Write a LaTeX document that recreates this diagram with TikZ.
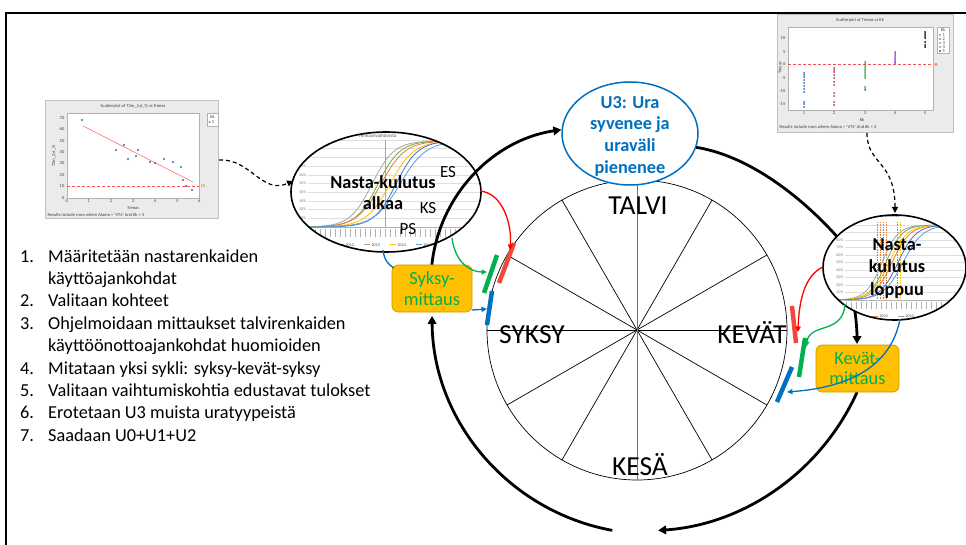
\documentclass[tikz,border=0pt]{standalone}
\usepackage{fontspec}
\setmainfont{Carlito}
\usetikzlibrary{shapes.geometric,arrows.meta,calc}

\definecolor{pblue}{HTML}{0070C0}
\definecolor{pgreen}{HTML}{00B050}
\definecolor{pred}{HTML}{FF0000}
\definecolor{barred}{HTML}{F2473F}
\definecolor{gold}{HTML}{FFC000}
\definecolor{goldedge}{HTML}{C49A00}
\definecolor{xorange}{HTML}{ED7D31}
\definecolor{xgrey}{HTML}{A5A5A5}
\definecolor{xyellow}{HTML}{FFC000}
\definecolor{xblue}{HTML}{5B9BD5}
\definecolor{xgreen}{HTML}{70AD47}
\definecolor{xnavy}{HTML}{4472C4}
\definecolor{sblue}{HTML}{2E6DB4}
\definecolor{sred}{HTML}{B0343C}
\definecolor{sgreen}{HTML}{3C9A3C}
\definecolor{spurple}{HTML}{9B30C8}
\definecolor{panel}{HTML}{EBEBEB}

% S-shaped cumulative curve: colour, domain, midpoint, spread, baseline y, height
\newcommand\sigmoidcurve[6]{%
  \draw[#1,line width=0.8pt] plot[domain=#2,samples=60,smooth]
    (\x,{-#5+#6/(1+exp(-(\x-#3)/#4))});}

\begin{document}
\begin{tikzpicture}[x=1pt,y=1pt,
  cycle/.style={line width=2.8pt,-{Triangle[length=8pt,width=8.5pt]}},
  cyclebare/.style={line width=2.8pt},
  feed/.style={line width=1.3pt,-{Triangle[length=5.5pt,width=5pt]}},
  tagbar/.style={line width=4.5pt},
  season/.style={font=\fontsize{27.5}{30}\selectfont,inner sep=0,anchor=base},
  listtxt/.style={font=\fontsize{18.3}{22}\selectfont,anchor=base west,inner sep=0},
  measbox/.style={draw=goldedge,fill=gold,rounded corners=6pt,line width=0.6pt,
    minimum width=#1,minimum height=47pt,align=center,text=pgreen,
    font=\fontsize{18.5}{20.5}\selectfont,inner sep=0},
  bubble/.style={ellipse,draw,line width=1.6pt,inner sep=0},
  boldlbl/.style={align=center,inner sep=0},
  sublbl/.style={font=\fontsize{17}{20}\selectfont,inner sep=0,anchor=base},
  dashlink/.style={dash pattern=on 4pt off 3pt,line width=1.2pt,-{Triangle[length=6pt,width=6pt]}},
  tinytxt/.style={font=\fontsize{4.5}{5}\selectfont,inner sep=0.5pt,text=black!75},
]
\useasboundingbox (0,0) rectangle (966,-545);

% frame
\draw[line width=2pt] (6,-545) -- (6,-13) -- (966,-13);

% ---------- scatterplot: T2m vs Treeas ----------
\node[draw=gray!50,fill=panel,minimum width=173pt,minimum height=118pt,inner sep=0,line width=0.4pt] (sc1) at (131.5,-159) {};
\draw[gray!60,fill=white,line width=0.4pt] (67,-113) rectangle (199,-198);
\node[tinytxt] at (133,-106) {Scatterplot of T2m\_2,6\_\% vs Treeas};
\foreach \v in {0,10,...,70} \node[tinytxt,anchor=east] at (65,{-197.7+1.14*\v}) {\v};
\foreach \u in {0,...,6} \node[tinytxt,anchor=north] at ({66.7+22.1*\u},-199) {\u};
\node[tinytxt] at (133,-208) {Treeas};
\node[tinytxt,rotate=90] at (54,-156) {T2m\_2,6\_\%};
\node[tinytxt,anchor=west] at (47,-214.5) {Results include rows where Alamo = 'VT4' And Kk = 3};
\draw[gray!60,fill=white,line width=0.3pt] (207,-113) rectangle (218,-126);
\node[tinytxt] at (212.5,-116.5) {Kk};
\fill[sblue] (209.5,-122) circle[radius=0.8pt];
\node[tinytxt,anchor=west] at (211,-122) {3};
\draw[red!70,dash pattern=on 3pt off 2pt,line width=0.6pt] (67,-186.3) -- (199,-186.3);
\node[tinytxt,text=red!70,anchor=west] at (200,-186.3) {10};
\draw[red!55,line width=0.6pt] (83,-126) -- (193,-182);
\foreach \px/\py in {82/120,116/150,124/145,128/159,136/156,138/150,150/162,155/163,164/159,173/162,181/167,183/180,186/186,192/190}
  \fill[sblue] (\px,-\py) circle[radius=1.1pt];

% ---------- scatterplot: Treeas vs Kk ----------
\node[draw=gray!50,fill=panel,minimum width=176pt,minimum height=118pt,inner sep=0,line width=0.4pt] (sc2) at (865,-73) {};
\draw[gray!60,fill=white,line width=0.4pt] (788,-27) rectangle (933,-110);
\node[tinytxt] at (860,-20) {Scatterplot of Treeas vs Kk};
\foreach \v/\yy in {10/38.3,5/51.7,0/64.3,-5/77.7,-10/91,-15/104.3} \node[tinytxt,anchor=east] at (786,-\yy) {\v};
\foreach \u/\xx in {1/804,2/834,3/865,4/895,5/925} \node[tinytxt,anchor=north] at (\xx,-111) {\u};
\node[tinytxt] at (862,-120) {Kk};
\node[tinytxt,rotate=90] at (780,-68) {Treeas};
\node[tinytxt,anchor=west] at (779,-127) {Results include rows where Alamo = 'VT4' And Kk = 3};
\draw[red!70,dash pattern=on 3pt off 2pt,line width=0.6pt] (788,-64.3) -- (933,-64.3);
\draw[red!70,line width=0.4pt] (936,-64.3) circle[radius=1.2pt];
\draw[gray!60,fill=white,line width=0.3pt] (937,-27) rectangle (949,-53);
\node[tinytxt] at (943,-30) {Kk};
\foreach \i/\cc in {1/sblue,2/sred,3/sgreen,4/spurple,5/black}{
  \fill[\cc] (940,{-31-4*\i}) circle[radius=0.8pt];
  \node[tinytxt,anchor=west] at (942,{-31-4*\i}) {\i};}
\foreach \py in {73,75,77,80,83,86,89,92,102,104,107} \fill[sblue] (804,-\py) circle[radius=1pt];
\foreach \py in {68,70,72,75,78,82,85,93,96,102,105} \fill[sred] (834,-\py) circle[radius=1pt];
\foreach \py in {62,64,66,68,70,72,74,76,78,87,89,90} \fill[sgreen] (865,-\py) circle[radius=1pt];
\foreach \py in {52,54,56,58,60,62,63} \fill[spurple] (895,-\py) circle[radius=1pt];
\foreach \py in {32,34,36,38,42,45,47} \fill[black] (925,-\py) circle[radius=1pt];

% ---------- work steps ----------
\node[listtxt] (n1) at (20,-262) {1.};
\node[listtxt] (t1) at (48,-262) {Määritetään nastarenkaiden};
\node[listtxt] (t1b) at (48,-284.4) {käyttöajankohdat};
\node[listtxt] (n2) at (20,-306.8) {2.};
\node[listtxt] (t2) at (48,-306.8) {Valitaan kohteet};
\node[listtxt] (n3) at (20,-329.2) {3.};
\node[listtxt] (t3) at (48,-329.2) {Ohjelmoidaan mittaukset talvirenkaiden};
\node[listtxt] (t3b) at (48,-351.6) {käyttöönottoajankohdat huomioiden};
\node[listtxt] (n4) at (20,-374) {4.};
\node[listtxt] (t4) at (48,-374) {Mitataan yksi sykli: syksy-kevät-syksy};
\node[listtxt] (n5) at (20,-396.4) {5.};
\node[listtxt] (t5) at (48,-396.4) {Valitaan vaihtumiskohtia edustavat tulokset};
\node[listtxt] (n6) at (20,-418.8) {6.};
\node[listtxt] (t6) at (48,-418.8) {Erotetaan U3 muista uratyypeistä};
\node[listtxt] (n7) at (20,-441.2) {7.};
\node[listtxt] (t7) at (48,-441.2) {Saadaan U0+U1+U2};

% ---------- year dial ----------
\coordinate (c) at (637,-330);
\draw[line width=0.7pt] (c) circle[radius=150pt];
\foreach \a in {0,30,60,120,150}
  \draw[line width=0.7pt] ($(c)+(\a:150)$) -- ($(c)+(\a+180:150)$);
\draw[line width=0.9pt,black!55] ($(c)+(90:150)$) -- ($(c)+(270:150)$);
\node[season] (talvi) at (638,-215) {TALVI};
\node[season] (syksy) at (532,-343) {SYKSY};
\node[season] (kevat) at (752,-343) {KEVÄT};
\node[season] (kesa) at (640,-475) {KESÄ};

% ---------- start of stud wear (chart in ellipse) ----------
\begin{scope}
  \clip (386,-192) ellipse[x radius=95pt,y radius=60pt];
  \fill[white] (280,-120) rectangle (490,-260);
  \foreach \g in {0,...,10} \draw[gray!25,line width=0.4pt] (308,{-227+8.7*\g}) -- (490,{-227+8.7*\g});
  \foreach \g in {1,...,9} \node[tinytxt,text=gray,anchor=east,font=\fontsize{4}{4}\selectfont] at (307,{-227+8.7*\g}) {\g0\%};
  \draw[gray!70,line width=0.9pt] (385,-140) -- (385,-227);
  \draw[gray!60,line width=0.5pt] (308,-227) -- (490,-227);
  \foreach \t in {0,...,35} \draw[gray!60,line width=0.5pt] ({310+5*\t},-229) -- ({310+5*\t},-237);
  \sigmoidcurve{xgrey}{290:490}{372}{11}{227}{86}
  \sigmoidcurve{xgreen}{290:490}{378}{11}{227}{86}
  \sigmoidcurve{xorange}{290:490}{381}{12}{227}{86}
  \sigmoidcurve{xyellow}{290:490}{390}{12}{227}{86}
  \sigmoidcurve{xnavy}{290:490}{396}{11}{227}{86}
  \sigmoidcurve{xblue}{290:490}{400}{13}{227}{86}
  \node[tinytxt,text=gray!70!black,anchor=east,font=\fontsize{5}{5}\selectfont] at (397,-136) {renkaanvaihdoista};
  \foreach \xx/\cc/\yr in {338/xorange/2012,364/xgrey/2013,390/xyellow/2014,416/xblue/2015}{
    \draw[\cc,line width=1pt] (\xx,-245) -- (\xx+6,-245);
    \node[tinytxt,anchor=west,font=\fontsize{4}{4}\selectfont] at (\xx+7,-245) {\yr};}
\end{scope}
\node[bubble,minimum width=190pt,minimum height=120pt] (alku) at (386,-192) {};
\node[boldlbl,font=\bfseries\fontsize{18.3}{21}\selectfont] (alkulbl) at (383,-193) {Nasta-kulutus\\alkaa};
\node[sublbl] (es) at (448,-177.5) {ES};
\node[sublbl] (ks) at (428,-213.3) {KS};
\node[sublbl] (ps) at (408,-235) {PS};

% ---------- outer cycle arrows ----------
\coordinate (aA) at ($(652,-314)+(259.6:220)$);
\draw[cycle] (aA) arc[start angle=259.6,end angle=180.5,radius=220pt];
\coordinate (aB) at ($(584,-281)+(174.7:153)$);
\draw[cycle] (aB) arc[start angle=174.7,end angle=98.5,radius=153pt];
\coordinate (aC1) at (694,-147);
\coordinate (aC2) at (840,-240);
\draw[cyclebare] (aC1) .. controls (750,-155) and (805,-200) .. (aC2);
\coordinate (aD1) at (853,-300);
\coordinate (aD2) at (857,-344);
\draw[cycle] (aD1) .. controls (856,-315) and (857,-330) .. (aD2);
\coordinate (aE) at ($(642,-295)+(-24.3:236)$);
\draw[cycle] (aE) arc[start angle=-24.3,end angle=-86.1,radius=236pt];

% ---------- U3 ----------
\node[ellipse,draw=pblue,line width=1.5pt,fill=white,minimum width=136pt,minimum height=103pt,inner sep=0] (u3) at (630,-133.5) {};
\node[boldlbl,text=pblue,font=\bfseries\fontsize{18.3}{21.7}\selectfont] (u3lbl) at (630,-136) {U3: Ura\\syvenee ja\\uraväli\\pienenee};

% ---------- end of stud wear (chart in ellipse) ----------
\begin{scope}
  \clip (894.5,-267.5) ellipse[x radius=71.5pt,y radius=52.5pt];
  \fill[white] (820,-210) rectangle (970,-325);
  \foreach \g in {0,...,10} \draw[gray!25,line width=0.4pt] (845,{-300+7.5*\g}) -- (970,{-300+7.5*\g});
  \foreach \g in {1,...,9} \node[tinytxt,text=gray,anchor=east,font=\fontsize{4}{4}\selectfont] at (844,{-300+7.5*\g}) {\g0\%};
  \foreach \xx/\cc in {877/xgreen,880/xorange,883/xblue,886/xorange,897/xblue,900/xyellow}
    \draw[\cc,dash pattern=on 1.5pt off 1pt,line width=0.6pt] (\xx,-222) -- (\xx,-300);
  \draw[gray!60,line width=0.5pt] (845,-300) -- (970,-300);
  \foreach \t in {0,...,25} \draw[gray!60,line width=0.5pt] ({846+5*\t},-302) -- ({846+5*\t},-309);
  \sigmoidcurve{xgrey}{820:970}{882}{8}{300}{75}
  \sigmoidcurve{xgreen}{820:970}{886}{8}{300}{75}
  \sigmoidcurve{xorange}{820:970}{892}{9}{300}{75}
  \sigmoidcurve{xyellow}{820:970}{889}{9}{300}{75}
  \sigmoidcurve{xnavy}{820:970}{898}{9}{300}{75}
  \sigmoidcurve{xblue}{820:970}{903}{10}{300}{75}
  \node[tinytxt,text=gray!70!black,anchor=west,font=\fontsize{5}{5}\selectfont] at (862,-216) {renkaanvaihdoista};
  \foreach \xx/\cc/\yr in {872/xorange/2012,898/xgrey/2013,924/xyellow/2014,950/xblue/2015}{
    \draw[\cc,line width=1pt] (\xx,-316) -- (\xx+6,-316);
    \node[tinytxt,anchor=west,font=\fontsize{4}{4}\selectfont] at (\xx+7,-316) {\yr};}
\end{scope}
\node[bubble,minimum width=143pt,minimum height=105pt] (loppu) at (894.5,-267.5) {};
\node[boldlbl,font=\bfseries\fontsize{18.3}{22.5}\selectfont] (loppulbl) at (897,-268.5) {Nasta-\\kulutus\\loppuu};

% ---------- measurement boxes ----------
\node[measbox=80pt] (syk) at (432,-288.5) {Syksy-\\mittaus};
\node[measbox=83pt] (kev) at (857.5,-368.5) {Kevät-\\mittaus};

% ---------- autumn markers and feeds ----------
\draw[tagbar,barred] (499,-283) -- (514,-243);
\draw[tagbar,pgreen] (484,-293) -- (497,-255);
\draw[tagbar,pblue] (487,-325) -- (492,-291);
\coordinate (lr1) at (480,-191);
\coordinate (lr2) at (510,-250);
\draw[feed,pred] (lr1) .. controls (503,-193) and (512,-225) .. (lr2);
\coordinate (lg1) at (452,-238);
\coordinate (lg2) at (487,-272);
\draw[feed,pgreen] (lg1) .. controls (455,-262) and (470,-272) .. (lg2);
\coordinate (lb1) at (383,-250);
\draw[line width=1.3pt,pblue] (lb1) .. controls (384,-259) and (388,-265) .. (394,-268);
\coordinate (lb2) at (472,-310);
\coordinate (lb3) at (487,-309);
\draw[feed,pblue] (lb2) -- (lb3);

% ---------- spring markers and feeds ----------
\draw[tagbar,barred] (792,-306) -- (796,-343);
\draw[tagbar,pgreen] (799,-377) -- (805,-338);
\draw[tagbar,pblue] (777,-402) -- (792,-367);
\coordinate (rr1) at (823,-267);
\coordinate (rr2) at (798,-332);
\draw[feed,pred] (rr1) .. controls (805,-275) and (799,-300) .. (rr2);
\coordinate (rg1) at (845,-304);
\coordinate (rg2) at (806,-347);
\draw[feed,pgreen] (rg1) .. controls (843,-335) and (810,-322) .. (rg2);
\coordinate (rb1) at (900,-319);
\coordinate (rb2) at (787,-392);
\draw[feed,pblue] (rb1) .. controls (890,-372) and (840,-388) .. (rb2);

% ---------- links from the plots ----------
\coordinate (d1a) at (219,-160);
\coordinate (d1b) at (293,-181);
\draw[dashlink] (d1a) .. controls (250,-158) and (262,-195) .. (d1b);
\coordinate (d2a) at (867,-133);
\coordinate (d2b) at (895,-213);
\draw[dashlink] (d2a) .. controls (867,-165) and (895,-160) .. (d2b);
\end{tikzpicture}
\end{document}
